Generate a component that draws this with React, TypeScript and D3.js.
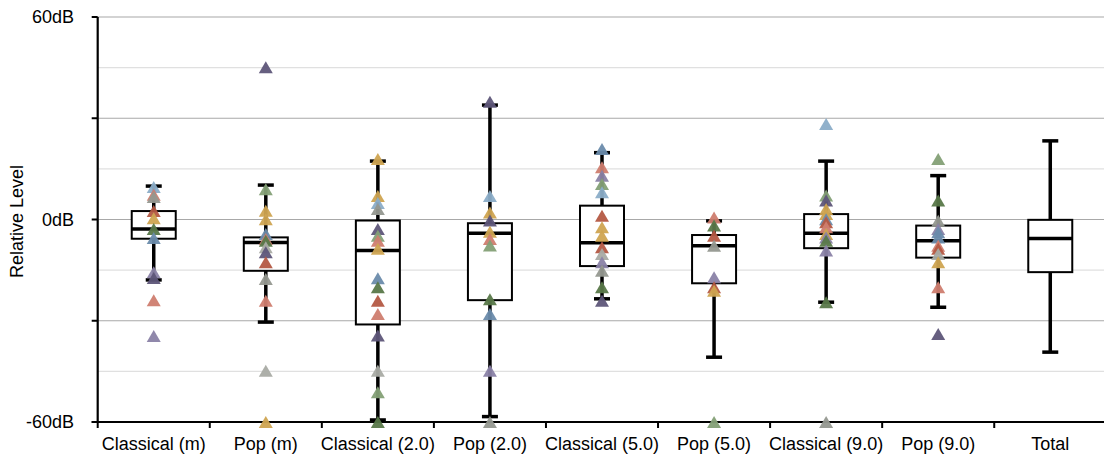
import React from "react";
import * as d3 from "d3";

const categories = [
  "Classical (m)",
  "Pop (m)",
  "Classical (2.0)",
  "Pop (2.0)",
  "Classical (5.0)",
  "Pop (5.0)",
  "Classical (9.0)",
  "Pop (9.0)",
  "Total",
];

// box statistics (dB)
const whiskerHigh = [9.9, 10.2, 17.3, 33.9, 19.8, -0.4, 17.3, 13.0, 23.3];
const q3 = [2.5, -5.3, -0.3, -1.1, 4.1, -4.6, 1.6, -1.8, -0.1];
const median = [-2.8, -6.8, -9.2, -4.1, -6.9, -7.8, -4.1, -6.3, -5.6];
const q1 = [-5.7, -15.2, -31.1, -23.9, -13.8, -18.9, -8.5, -11.3, -15.6];
const whiskerLow = [-17.9, -30.4, -59.4, -58.4, -23.5, -40.8, -24.5, -26.0, -39.3];

// individual points per category: values and colour keys
const pointsClassicalM = [9.6, 7.3, 6.7, 2.5, 0.4, -2.8, -5.5, -15.6, -17.3, -23.9, -34.5];
const coloursClassicalM = ["lblue", "salmon", "grey", "brick", "gold", "dgreen", "blue", "lavender", "dpurple", "salmon", "lavender"];

const pointsPopM = [45.1, 9.0, 2.6, 0.1, -4.3, -5.8, -6.3, -8.2, -9.7, -12.7, -17.6, -24.1, -44.8, -60];
const coloursPopM = ["dpurple", "lgreen", "gold", "gold", "blue", "salmon", "dgreen", "lgrey", "dpurple", "brick", "grey", "salmon", "lgrey", "gold"];

const pointsClassical20 = [17.9, 7.0, 4.9, 3.1, -2.8, -4.8, -6.3, -8.7, -17.4, -20.1, -24.1, -28, -34.4, -44.8, -51.2, -60];
const coloursClassical20 = ["gold", "gold", "lblue", "grey", "dpurple", "lgreen", "salmon", "gold", "blue", "dgreen", "brick", "salmon", "dpurple", "lgrey", "lgreen", "dgreen"];

const pointsPop20 = [34.9, 7.0, 2.1, -0.3, -3.6, -5.8, -7.7, -23.6, -28, -44.8, -60];
const coloursPop20 = ["dpurple", "lblue", "gold", "dpurple", "gold", "salmon", "lgreen", "dgreen", "blue", "lavender", "grey"];

const pointsClassical50 = [20.9, 15.5, 13.0, 10.5, 8.1, 1.1, -2.3, -4.8, -8.2, -10.2, -12.7, -15.2, -20.1, -24.1];
const coloursClassical50 = ["blue", "salmon", "lavender", "lgreen", "lblue", "brick", "gold", "gold", "brick", "lgrey", "lavender", "grey", "dgreen", "dpurple"];

const pointsPop50 = [0.6, -1.8, -4.8, -7.8, -17.1, -20.1, -21.1, -60];
const coloursPop50 = ["salmon", "dgreen", "brick", "grey", "lavender", "brick", "gold", "lgreen"];

const pointsClassical90 = [28.3, 7.1, 5.6, 3.1, 1.6, 0.1, -0.8, -2.3, -4.3, -5.3, -6.3, -9.2, -24.5, -60];
const coloursClassical90 = ["lblue", "lgreen", "dpurple", "gold", "gold", "blue", "brick", "salmon", "gold", "lavender", "dgreen", "lavender", "dgreen", "grey"];

const pointsPop90 = [17.9, 5.6, -0.4, -2.8, -3.8, -5.3, -7.8, -8.7, -10.2, -12.7, -20.1, -33.9];
const coloursPop90 = ["lgreen", "dgreen", "grey", "lavender", "blue", "blue", "salmon", "brick", "lgrey", "gold", "salmon", "dpurple"];

const pointsTotal: number[] = [];
const coloursTotal: string[] = [];

const pointValues = [
  pointsClassicalM, pointsPopM, pointsClassical20, pointsPop20,
  pointsClassical50, pointsPop50, pointsClassical90, pointsPop90, pointsTotal,
];
const pointColours = [
  coloursClassicalM, coloursPopM, coloursClassical20, coloursPop20,
  coloursClassical50, coloursPop50, coloursClassical90, coloursPop90, coloursTotal,
];

const yTicksMajor = [60, 30, 0, -30, -60];
const yTicksMinor = [45, 15, -15, -45];
const yTickLabels = [
  { v: 60, label: "60dB" },
  { v: 0, label: "0dB" },
  { v: -60, label: "-60dB" },
];

const palette: Record<string, string> = {
  blue: "#6a8bab",
  lblue: "#8badc8",
  salmon: "#cf7d6f",
  brick: "#b45843",
  gold: "#cfa451",
  dgreen: "#587849",
  lgreen: "#84a076",
  dpurple: "#5e5679",
  lavender: "#8a82a6",
  grey: "#959890",
  lgrey: "#a9aba4",
};

const W = 1104;
const H = 460;
const left = 97.7;
const right = 1106.3;
const top = 17;
const bottom = 422;
const font = "'Liberation Sans', Arial, Helvetica, sans-serif";

export default function App() {
  const x = d3.scaleBand<string>().domain(categories).range([left, right]).padding(0);
  const y = d3.scaleLinear().domain([-60, 60]).range([bottom, top]);
  const bw = x.bandwidth();
  const boxW = 44;
  const capW = 16;
  const triW = 14;
  const triH = 12;
  const tri = `M0,${-triH / 2}L${triW / 2},${triH / 2}L${-triW / 2},${triH / 2}Z`;

  return (
    <div style={{ position: "absolute", left: 0, top: 0 }}>
      <svg width={W} height={H} style={{ display: "block", background: "#fff" }}>
        {/* minor gridlines */}
        {yTicksMinor.map((v) => (
          <line key={"mn" + v} x1={left} x2={W} y1={y(v)} y2={y(v)} stroke="#e0e0e0" strokeWidth={1.2} />
        ))}
        {/* major gridlines */}
        {yTicksMajor.filter((v) => v !== -60).map((v) => (
          <line key={"mj" + v} x1={left} x2={W} y1={y(v)} y2={y(v)} stroke="#a8a8a8" strokeWidth={1.2} />
        ))}

        {/* boxes */}
        {categories.map((c, i) => {
          const cx = (x(c) as number) + bw / 2;
          return (
            <g key={"box" + c}>
              <line x1={cx} x2={cx} y1={y(whiskerHigh[i])} y2={y(whiskerLow[i])} stroke="#000" strokeWidth={3.5} />
              <line x1={cx - capW / 2} x2={cx + capW / 2} y1={y(whiskerHigh[i])} y2={y(whiskerHigh[i])} stroke="#000" strokeWidth={3.5} />
              <line x1={cx - capW / 2} x2={cx + capW / 2} y1={y(whiskerLow[i])} y2={y(whiskerLow[i])} stroke="#000" strokeWidth={3.5} />
              <rect x={cx - boxW / 2} y={y(q3[i])} width={boxW} height={y(q1[i]) - y(q3[i])} fill="#fff" stroke="#000" strokeWidth={2} />
              <line x1={cx - boxW / 2} x2={cx + boxW / 2} y1={y(median[i])} y2={y(median[i])} stroke="#000" strokeWidth={3.5} />
            </g>
          );
        })}

        {/* axes */}
        <line x1={left} x2={left} y1={top} y2={bottom + 1} stroke="#000" strokeWidth={2.2} />
        <line x1={left - 6} x2={W} y1={bottom} y2={bottom} stroke="#000" strokeWidth={2.2} />
        {yTicksMajor.map((v) => (
          <line key={"yt" + v} x1={left - 6} x2={left} y1={y(v)} y2={y(v)} stroke="#000" strokeWidth={2} />
        ))}
        {d3.range(categories.length + 1).map((k) => {
          const xx = left + k * bw;
          return <line key={"xt" + k} x1={xx} x2={xx} y1={bottom} y2={bottom + 6} stroke="#000" strokeWidth={2} />;
        })}

        {/* points */}
        {categories.map((c, i) => {
          const cx = (x(c) as number) + bw / 2;
          return (
            <g key={"pts" + c}>
              {pointValues[i].map((v, j) => (
                <path
                  key={j}
                  d={tri}
                  transform={`translate(${cx},${y(v)})`}
                  fill={palette[pointColours[i][j]]}
                  fillOpacity={0.95}
                />
              ))}
            </g>
          );
        })}

        {/* y labels */}
        {yTickLabels.map((t) => (
          <text key={"yl" + t.v} x={74} y={y(t.v)} dy="0.35em" textAnchor="end" fontFamily={font} fontSize={18} fill="#000">
            {t.label}
          </text>
        ))}
        <text
          transform={`translate(${23},${(top + bottom) / 2 + 2}) rotate(-90)`}
          textAnchor="middle"
          fontFamily={font}
          fontSize={18}
          fill="#000"
        >
          Relative Level
        </text>

        {/* x labels */}
        {categories.map((c) => (
          <text key={"xl" + c} x={(x(c) as number) + bw / 2} y={450} textAnchor="middle" fontFamily={font} fontSize={18} fill="#000">
            {c}
          </text>
        ))}
      </svg>
    </div>
  );
}
